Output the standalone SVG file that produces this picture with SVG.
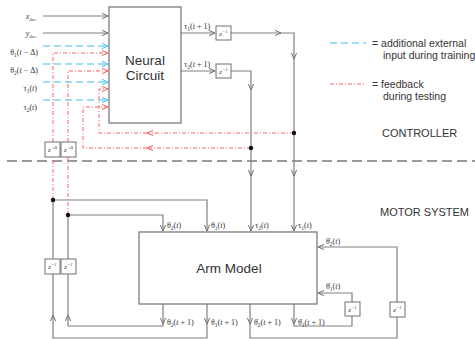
<svg xmlns="http://www.w3.org/2000/svg" width="475" height="339" viewBox="0 0 475 339">
<defs>
<style>
.g{fill:none;stroke:#808080;stroke-width:1.2}
.r{fill:none;stroke:#ff6060;stroke-width:1;stroke-dasharray:4 2 1 2}
.b{fill:none;stroke:#3cbff0;stroke-width:1.2;stroke-dasharray:7 4}
.box{fill:#fff;stroke:#707070;stroke-width:1.2}
.zb{fill:#fff;stroke:#707070;stroke-width:1}
.m{font-family:"Liberation Serif",serif;font-size:8px;fill:#333}
.z{font-family:"Liberation Serif",serif;font-size:7px;fill:#444;font-style:italic}
.s{font-family:"Liberation Sans",Arial,sans-serif;fill:#333}
.it{font-style:italic}
.dot{fill:#111}
</style>
<marker id="ag" viewBox="0 0 6 6" refX="6" refY="3" markerWidth="6" markerHeight="6" orient="auto" markerUnits="userSpaceOnUse"><path d="M0,0.4 L6,3 L0,5.6" fill="none" stroke="#707070" stroke-width="1"/></marker>
<marker id="ar" viewBox="0 0 6 6" refX="6" refY="3" markerWidth="6" markerHeight="6" orient="auto" markerUnits="userSpaceOnUse"><path d="M0,0.4 L6,3 L0,5.6" fill="none" stroke="#ff6060" stroke-width="1"/></marker>
<marker id="ab" viewBox="0 0 6 6" refX="6" refY="3" markerWidth="6" markerHeight="6" orient="auto" markerUnits="userSpaceOnUse"><path d="M0,0.4 L6,3 L0,5.6" fill="none" stroke="#3cbff0" stroke-width="1"/></marker>
</defs>
<rect width="475" height="339" fill="#fff"/>

<!-- separator -->
<path d="M7,161 H475" fill="none" stroke="#999" stroke-width="1.8" stroke-dasharray="10 5"/>

<g id="connectors">
<!-- inputs -->
<path class="g" marker-end="url(#ag)" d="M43,16 H108"/>
<path class="g" marker-end="url(#ag)" d="M43,33 H108"/>
<path class="b" marker-end="url(#ab)" d="M43,46 H108"/>
<path class="b" marker-end="url(#ab)" d="M43,64 H108"/>
<path class="b" marker-end="url(#ab)" d="M43,82 H108"/>
<path class="b" marker-end="url(#ab)" d="M43,100 H108"/>
<!-- tau outputs -->
<path class="g" marker-end="url(#ag)" d="M181,33 H215"/>
<path class="g" marker-end="url(#ag)" d="M231,33 H281"/>
<path class="g" marker-end="url(#ag)" d="M281,33 H294 V59"/>
<path class="g" marker-end="url(#ag)" d="M294,59 V176"/>
<path class="g" marker-end="url(#ag)" d="M294,176 V231"/>
<path class="g" marker-end="url(#ag)" d="M181,71 H215"/>
<path class="g" marker-end="url(#ag)" d="M231,71 H251 V90"/>
<path class="g" marker-end="url(#ag)" d="M251,90 V176"/>
<path class="g" marker-end="url(#ag)" d="M251,176 V231"/>
<!-- theta(t) into arm -->
<path class="g" marker-end="url(#ag)" d="M53,200 H207 V231"/>
<path class="g" marker-end="url(#ag)" d="M68,215 H163 V231"/>
<!-- arm outputs -->
<path class="g" marker-end="url(#ag)" d="M163,304 V324"/>
<path class="g" marker-end="url(#ag)" d="M163,324 V326 H68 V315"/>
<path class="g" d="M68,315 V274 M68,259 V215"/>
<path class="g" marker-end="url(#ag)" d="M207,304 V324"/>
<path class="g" marker-end="url(#ag)" d="M207,324 V338 H53 V315"/>
<path class="g" d="M53,315 V274 M53,259 V200"/>
<path class="g" marker-end="url(#ag)" d="M250,304 V324"/>
<path class="g" marker-end="url(#ag)" d="M250,324 V338 H397 V317 M397,302 V247 H318"/>
<path class="g" marker-end="url(#ag)" d="M294,304 V324"/>
<path class="g" marker-end="url(#ag)" d="M294,324 V326 H352 V316 M352,302 V293 H318"/>
<!-- red feedback -->
<path class="r" d="M53,200 V157"/>
<path class="r" marker-end="url(#ar)" d="M53,142 V53 H108"/>
<path class="r" d="M68,215 V157"/>
<path class="r" marker-end="url(#ar)" d="M68,142 V71 H108"/>
<path class="r" marker-end="url(#ar)" d="M294,133 H147"/>
<path class="r" marker-end="url(#ar)" d="M147,133 H99 V89 H108"/>
<path class="r" marker-end="url(#ar)" d="M251,148 H147"/>
<path class="r" marker-end="url(#ar)" d="M147,148 H83 V107 H108"/>
<circle class="dot" cx="53" cy="200" r="2.2"/>
<circle class="dot" cx="68" cy="215" r="2.2"/>
<circle class="dot" cx="294" cy="133" r="2.2"/>
<circle class="dot" cx="251" cy="148" r="2.2"/>
</g>

<g id="neural-circuit">
<rect class="box" x="109" y="7" width="72" height="116"/>
<text class="s" font-size="13.5" x="145" y="65" text-anchor="middle">Neural</text>
<text class="s" font-size="13.5" x="145" y="80" text-anchor="middle">Circuit</text>
</g>

<g id="arm-model">
<rect class="box" x="139" y="232" width="178" height="72"/>
<text class="s" font-size="13.5" x="229" y="273" text-anchor="middle">Arm Model</text>
</g>

<g id="z-tau1"><rect class="zb" x="216" y="26" width="15" height="14"/><text class="z" x="223.5" y="36" text-anchor="middle">z<tspan font-size="5" dy="-3">−1</tspan></text></g>
<g id="z-tau2"><rect class="zb" x="216" y="64" width="15" height="14"/><text class="z" x="223.5" y="74" text-anchor="middle">z<tspan font-size="5" dy="-3">−1</tspan></text></g>
<g id="z-delta1"><rect class="zb" x="45" y="142" width="15" height="15"/><text class="z" x="52.5" y="152" text-anchor="middle">z<tspan font-size="5" dy="-3">−Δ</tspan></text></g>
<g id="z-delta2"><rect class="zb" x="61" y="142" width="15" height="15"/><text class="z" x="68.5" y="152" text-anchor="middle">z<tspan font-size="5" dy="-3">−Δ</tspan></text></g>
<g id="z-theta1"><rect class="zb" x="45" y="259" width="15" height="15"/><text class="z" x="52.5" y="269" text-anchor="middle">z<tspan font-size="5" dy="-3">−1</tspan></text></g>
<g id="z-theta2"><rect class="zb" x="61" y="259" width="15" height="15"/><text class="z" x="68.5" y="269" text-anchor="middle">z<tspan font-size="5" dy="-3">−1</tspan></text></g>
<g id="z-dtheta1"><rect class="zb" x="345" y="302" width="15" height="14"/><text class="z" x="352.5" y="312" text-anchor="middle">z<tspan font-size="5" dy="-3">−1</tspan></text></g>
<g id="z-dtheta2"><rect class="zb" x="390" y="302" width="15" height="15"/><text class="z" x="397.5" y="312" text-anchor="middle">z<tspan font-size="5" dy="-3">−1</tspan></text></g>

<g id="labels">
<text class="m" x="36" y="19" text-anchor="end"><tspan class="it">x</tspan><tspan class="it" font-size="5" dy="1.5">des</tspan></text>
<text class="m" x="36" y="36" text-anchor="end"><tspan class="it">y</tspan><tspan class="it" font-size="5" dy="1.5">des</tspan></text>
<text class="m" x="38" y="55" text-anchor="end">θ<tspan font-size="5.5" dy="1.5">1</tspan><tspan dy="-1.5">(</tspan><tspan class="it">t</tspan> − Δ)</text>
<text class="m" x="38" y="73" text-anchor="end">θ<tspan font-size="5.5" dy="1.5">2</tspan><tspan dy="-1.5">(</tspan><tspan class="it">t</tspan> − Δ)</text>
<text class="m" x="37" y="91" text-anchor="end">τ<tspan font-size="5.5" dy="1.5">1</tspan><tspan dy="-1.5">(</tspan><tspan class="it">t</tspan>)</text>
<text class="m" x="37" y="110" text-anchor="end">τ<tspan font-size="5.5" dy="1.5">2</tspan><tspan dy="-1.5">(</tspan><tspan class="it">t</tspan>)</text>
<text class="m" x="184" y="29">τ<tspan font-size="5.5" dy="1.5">1</tspan><tspan dy="-1.5">(</tspan><tspan class="it">t</tspan> + 1)</text>
<text class="m" x="184" y="67">τ<tspan font-size="5.5" dy="1.5">2</tspan><tspan dy="-1.5">(</tspan><tspan class="it">t</tspan> + 1)</text>
<text class="m" x="167" y="228">θ<tspan font-size="5.5" dy="1.5">2</tspan><tspan dy="-1.5">(</tspan><tspan class="it">t</tspan>)</text>
<text class="m" x="211" y="228">θ<tspan font-size="5.5" dy="1.5">1</tspan><tspan dy="-1.5">(</tspan><tspan class="it">t</tspan>)</text>
<text class="m" x="255" y="228">τ<tspan font-size="5.5" dy="1.5">2</tspan><tspan dy="-1.5">(</tspan><tspan class="it">t</tspan>)</text>
<text class="m" x="298" y="228">τ<tspan font-size="5.5" dy="1.5">1</tspan><tspan dy="-1.5">(</tspan><tspan class="it">t</tspan>)</text>
<text class="m" x="326" y="244">θ̇<tspan font-size="5.5" dy="1.5">2</tspan><tspan dy="-1.5">(</tspan><tspan class="it">t</tspan>)</text>
<text class="m" x="326" y="289">θ̇<tspan font-size="5.5" dy="1.5">1</tspan><tspan dy="-1.5">(</tspan><tspan class="it">t</tspan>)</text>
<text class="m" x="167" y="325">θ<tspan font-size="5.5" dy="1.5">2</tspan><tspan dy="-1.5">(</tspan><tspan class="it">t</tspan> + 1)</text>
<text class="m" x="211" y="325">θ<tspan font-size="5.5" dy="1.5">1</tspan><tspan dy="-1.5">(</tspan><tspan class="it">t</tspan> + 1)</text>
<text class="m" x="254" y="325">θ̇<tspan font-size="5.5" dy="1.5">2</tspan><tspan dy="-1.5">(</tspan><tspan class="it">t</tspan> + 1)</text>
<text class="m" x="298" y="325">θ̇<tspan font-size="5.5" dy="1.5">1</tspan><tspan dy="-1.5">(</tspan><tspan class="it">t</tspan> + 1)</text>
</g>

<g id="legend">
<path class="b" d="M330,43 H366"/>
<text class="s" font-size="10.5" x="372" y="47">= additional external</text>
<text class="s" font-size="10.5" x="383" y="59">input during training</text>
<path class="r" d="M330,84 H366"/>
<text class="s" font-size="10.5" x="372" y="88">= feedback</text>
<text class="s" font-size="10.5" x="383" y="100">during testing</text>
</g>

<g id="section-labels">
<text class="s" font-size="11" x="382" y="137">CONTROLLER</text>
<text class="s" font-size="11" x="380" y="216">MOTOR SYSTEM</text>
</g>
</svg>
